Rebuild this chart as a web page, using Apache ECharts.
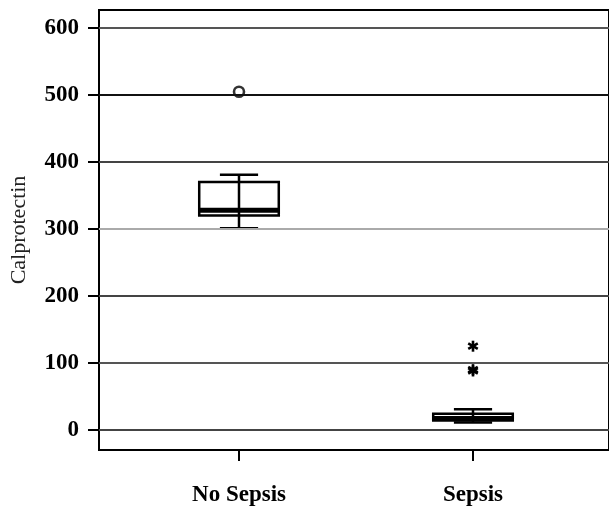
<!DOCTYPE html>
<html>
<head>
<meta charset="utf-8">
<script src="https://cdn.jsdelivr.net/npm/echarts@6/dist/echarts.min.js"></script>
<style>
  html, body { margin: 0; padding: 0; background: #fff; }
  #chart { width: 609px; height: 507px; }
</style>
</head>
<body>
<div id="chart"></div>
<script>
// data
const categories = ["No Sepsis", "Sepsis"];
// [low whisker, Q1, median, Q3, high whisker]
const noSepsisBox = [301, 320, 328, 370, 381];
const sepsisBox = [11, 14, 17, 24, 31];
const circleOutliers = [[0, 505]];
const starOutliers = [[1, 125], [1, 90], [1, 88]];
const yTicks = [0, 100, 200, 300, 400, 500, 600];
const gridLineColors = ["#444", "#555", "#444", "#aaa", "#444", "#111", "#555"];

const serif = "Liberation Serif";
const chart = echarts.init(document.getElementById("chart"), null, { renderer: "canvas" });

// box with half width caps, whisker line runs through the box
const renderBox = (params, api) => {
	const x = api.value(0);
	const p = [1, 2, 3, 4, 5].map((k) => api.coord([x, api.value(k)]));
	const cx = p[0][0];
	const half = api.size([1, 0])[0] * 0.17;
	const cap = half * 0.48;
	const st = { stroke: "#000", lineWidth: 2.5 };
	return {
		type: "group",
		children: [
			{ type: "rect", shape: { x: cx - half, y: p[3][1], width: half * 2, height: p[1][1] - p[3][1] }, style: { fill: "#fff", stroke: "#000", lineWidth: 2.5 } },
			{ type: "line", shape: { x1: cx, y1: p[4][1], x2: cx, y2: p[0][1] }, style: st },
			{ type: "line", shape: { x1: cx - cap, y1: p[4][1], x2: cx + cap, y2: p[4][1] }, style: st },
			{ type: "line", shape: { x1: cx - cap, y1: p[0][1], x2: cx + cap, y2: p[0][1] }, style: st },
			{ type: "line", shape: { x1: cx - half, y1: p[2][1], x2: cx + half, y2: p[2][1] }, style: { stroke: "#000", lineWidth: 5 } },
		],
	};
};

const renderStar = (params, api) => {
	const c = api.coord([api.value(0), api.value(1)]);
	const r = 5.5;
	const st = { stroke: "#000", lineWidth: 2.6 };
	const lines = [0, 60, 120].map((a) => {
		const t = (a * Math.PI) / 180;
		return { type: "line", shape: { x1: c[0] - r * Math.sin(t), y1: c[1] - r * Math.cos(t), x2: c[0] + r * Math.sin(t), y2: c[1] + r * Math.cos(t) }, style: st };
	});
	return { type: "group", children: lines };
};

const option = {
	backgroundColor: "#fff",
	animation: false,
	grid: [
		{ left: 97, right: -20, top: 10, bottom: 57, show: true, borderColor: "#000", borderWidth: 2, backgroundColor: "transparent" },
		{ left: 122, width: 468, top: 10, bottom: 57 },
	],
	xAxis: [
		{ type: "value", gridIndex: 0, min: 0, max: 1, show: false },
		{
			type: "category",
			gridIndex: 1,
			data: categories,
			axisLine: { show: false, onZero: false },
			axisTick: { show: true, alignWithLabel: true, length: 11, lineStyle: { color: "#000", width: 2 } },
			axisLabel: { margin: 34, color: "#000", fontFamily: serif, fontWeight: "bold", fontSize: 23 },
			splitLine: { show: false },
		},
	],
	yAxis: [
		{
			type: "value",
			gridIndex: 0,
			min: -30,
			max: 627,
			name: "Calprotectin",
			nameLocation: "middle",
			nameGap: 69,
			nameTextStyle: { color: "#222", fontFamily: serif, fontSize: 22 },
			axisLine: { show: false },
			axisTick: { show: true, customValues: yTicks, length: 11, lineStyle: { color: "#000", width: 2 } },
			axisLabel: { customValues: yTicks, margin: 20, color: "#000", fontFamily: serif, fontWeight: "bold", fontSize: 23 },
			splitLine: { show: false },
		},
		{ type: "value", gridIndex: 1, min: -30, max: 627, show: false },
	],
	series: [
		{
			type: "line",
			xAxisIndex: 0,
			yAxisIndex: 0,
			data: [],
			silent: true,
			markLine: {
				silent: true,
				symbol: "none",
				label: { show: false },
				data: yTicks.map((v, i) => ({ yAxis: v, lineStyle: { color: gridLineColors[i], width: 2, type: "solid" } })),
			},
		},
		{
			type: "custom",
			xAxisIndex: 1,
			yAxisIndex: 1,
			renderItem: renderBox,
			encode: { x: 0, y: [1, 2, 3, 4, 5] },
			data: [noSepsisBox, sepsisBox].map((s, i) => [i].concat(s)),
		},
		{
			type: "scatter",
			xAxisIndex: 1,
			yAxisIndex: 1,
			symbol: "circle",
			symbolSize: 10,
			itemStyle: { color: "#fff", borderColor: "#000", borderWidth: 2.6 },
			data: circleOutliers,
		},
		{
			type: "custom",
			xAxisIndex: 1,
			yAxisIndex: 1,
			renderItem: renderStar,
			data: starOutliers,
		},
	],
};
chart.setOption(option);
</script>
</body>
</html>
